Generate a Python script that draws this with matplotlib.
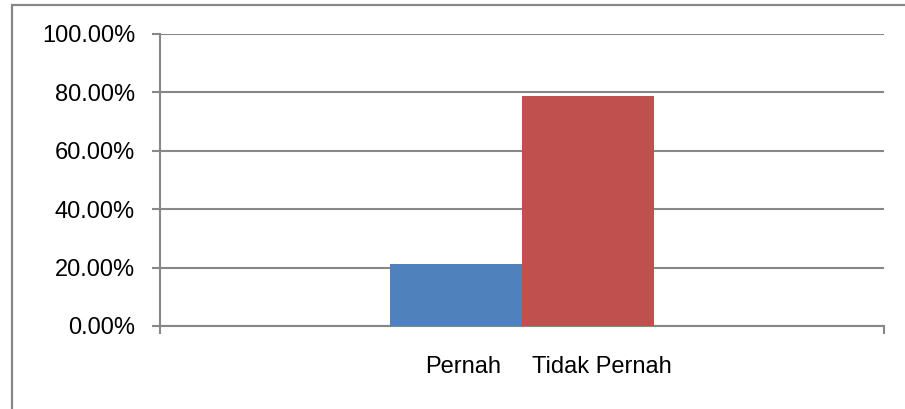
import matplotlib.pyplot as plt
import matplotlib.patches as mpatches
from matplotlib.ticker import PercentFormatter

categories = ['Pernah', 'Tidak Pernah']
values = [0.214, 0.786]
colors = ['#4F81BD', '#C0504D']
yticks = [0.0, 0.2, 0.4, 0.6, 0.8, 1.0]

W, H = 905, 409
plt.rcParams['font.family'] = ['Liberation Sans', 'DejaVu Sans']

fig = plt.figure(figsize=(W / 100, H / 100), dpi=100)

# outer chart border (runs off the right and bottom edges)
fig.patches.append(mpatches.Rectangle((12 / W, -0.1), 1.2, 1 - 5 / H + 0.1,
                                      transform=fig.transFigure, fill=False,
                                      edgecolor='#878787', linewidth=1.6))

ax = fig.add_axes([160 / W, 83 / H, (884 - 160) / W, (375 - 83) / H])

bar_w = 0.1823
x = [0.5 - bar_w / 2, 0.5 + bar_w / 2]
ax.bar(x, values, width=bar_w, color=colors, zorder=3)

ax.set_xlim(0, 1)
ax.set_ylim(0, 1)
ax.set_yticks(yticks)
ax.yaxis.set_major_formatter(PercentFormatter(1.0, decimals=2))
ax.set_xticks([0, 1])
ax.set_xticklabels([])
ax.grid(axis='y', color='#878787', linewidth=1.5, zorder=0)

for s in ['top', 'right']:
    ax.spines[s].set_visible(False)
for s in ['left', 'bottom']:
    ax.spines[s].set_color('#878787')
    ax.spines[s].set_linewidth(1.5)
ax.tick_params(axis='both', direction='out', length=6, width=1.5, color='#878787')
ax.tick_params(axis='y', labelsize=17, pad=12, labelcolor='#000000')

# legend-like labels under the bars
fig.text(463 / W, 1 - 367 / H, categories[0], ha='center', va='center', fontsize=17)
fig.text(602 / W, 1 - 367 / H, categories[1], ha='center', va='center', fontsize=17)

fig.savefig('out.png', dpi=100)
